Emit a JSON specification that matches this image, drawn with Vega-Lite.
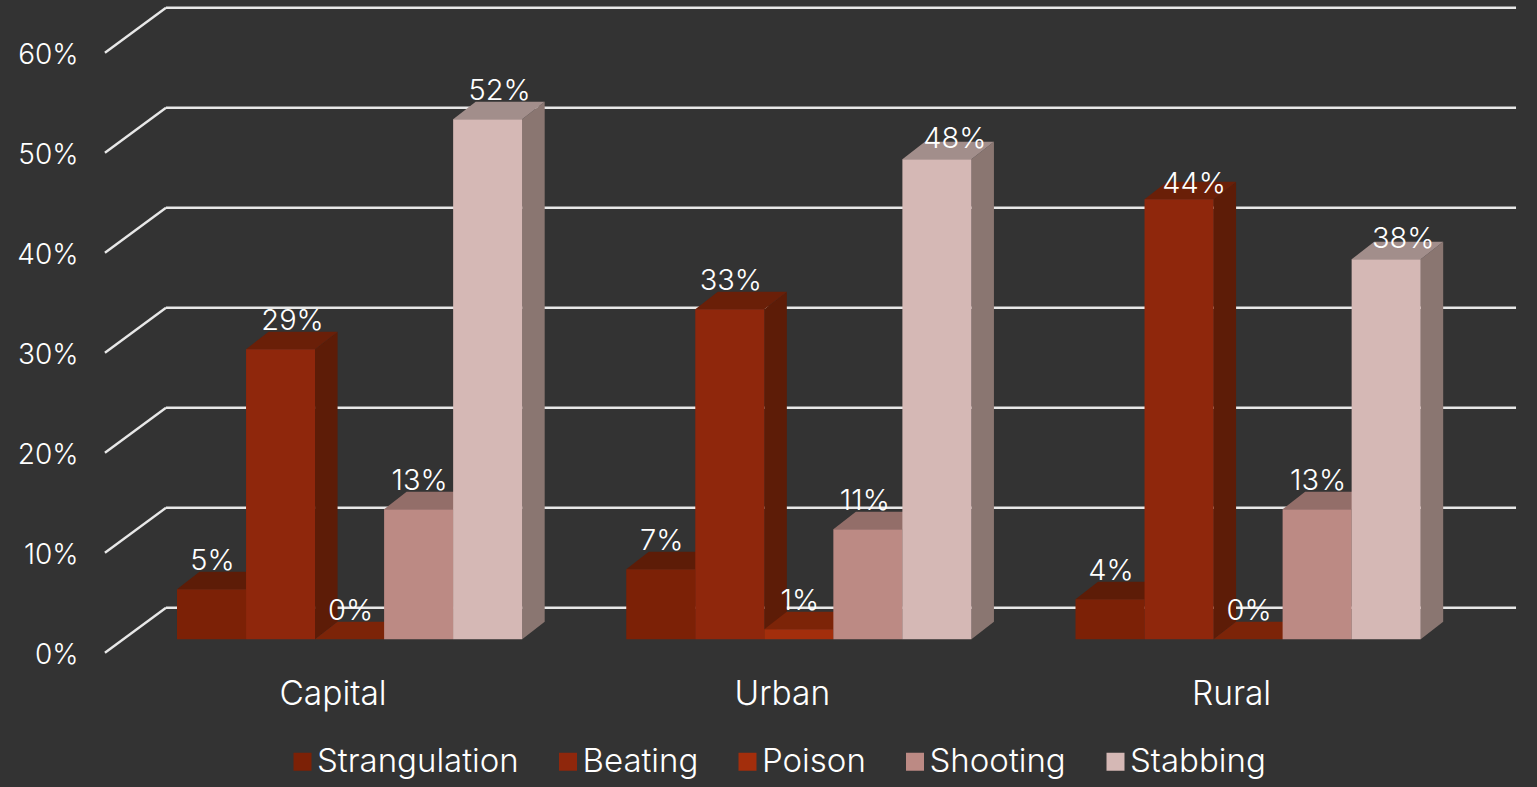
{
"$schema":"https://vega.github.io/schema/vega-lite/v6.json",
"width":1537,"height":787,"padding":0,"autosize":{"type":"none"},
"background":"#333333",
"config":{"view":{"stroke":null},"font":"Inter","text":{"font":"Inter","fontWeight":300}},
"datasets":{
"rows":[
{"category":"Capital","series":"Strangulation","value":0.05},
{"category":"Capital","series":"Beating","value":0.29},
{"category":"Capital","series":"Poison","value":0.0},
{"category":"Capital","series":"Shooting","value":0.13},
{"category":"Capital","series":"Stabbing","value":0.52},
{"category":"Urban","series":"Strangulation","value":0.07},
{"category":"Urban","series":"Beating","value":0.33},
{"category":"Urban","series":"Poison","value":0.01},
{"category":"Urban","series":"Shooting","value":0.11},
{"category":"Urban","series":"Stabbing","value":0.48},
{"category":"Rural","series":"Strangulation","value":0.04},
{"category":"Rural","series":"Beating","value":0.44},
{"category":"Rural","series":"Poison","value":0.0},
{"category":"Rural","series":"Shooting","value":0.13},
{"category":"Rural","series":"Stabbing","value":0.38}
],
"ticks":[{"t":0},{"t":0.1},{"t":0.2},{"t":0.3},{"t":0.4},{"t":0.5},{"t":0.6}],
"categories":[{"category":"Capital","g":0},{"category":"Urban","g":1},{"category":"Rural","g":2}]
},
"layer":[
{"data":{"name":"ticks"},
 "transform":[{"calculate":"datum.t+0.0315","as":"yb"},{"calculate":"datum.t-0.0135","as":"yf"}],
 "mark":{"type":"rule","color":"#E8E8E8","strokeWidth":2.4},
 "encoding":{
  "x":{"datum":-0.1604,"type":"quantitative","scale":{"domain":[-0.39399,3.02727],"nice":false,"zero":false,"range":[0,1537]},"axis":null},
  "x2":{"datum":-0.0245},
  "y":{"field":"yf","type":"quantitative","scale":{"domain":[-0.1477,0.6393],"nice":false,"zero":false,"range":[787,0]},
   "axis":{"values":[0,0.1,0.2,0.3,0.4,0.5,0.6],"format":".0%","title":null,"domain":false,"ticks":false,"grid":false,"offset":-78,"labelPadding":0,"labelOffset":16,"labelColor":"#FFFFFF","labelFontSize":28,"labelFont":"Inter","labelFontWeight":300}},
  "y2":{"field":"yb"}}},
{"data":{"name":"ticks"},
 "transform":[{"calculate":"datum.t+0.0315","as":"yb"}],
 "mark":{"type":"rule","color":"#E8E8E8","strokeWidth":2.4},
 "encoding":{
  "x":{"datum":-0.0245,"type":"quantitative"},
  "x2":{"datum":2.9806},
  "y":{"field":"yb","type":"quantitative"}}},
{"data":{"name":"rows"},
 "transform":[
  {"calculate":"indexof(['Capital','Urban','Rural'],datum.category)+0.15367*indexof(['Strangulation','Beating','Poison','Shooting','Stabbing'],datum.series)","as":"xb"},
  {"calculate":"[0,1]","as":"c"},{"flatten":["c"]},
  {"calculate":"datum.xb+0.15367+0.0501*datum.c","as":"xs"},
  {"calculate":"datum.c*0.0175","as":"lo"},
  {"calculate":"datum.value+datum.c*0.0175","as":"hi"}],
 "mark":{"type":"area","interpolate":"linear","orient":"vertical"},
 "encoding":{
  "x":{"field":"xs","type":"quantitative"},
  "y":{"field":"lo","type":"quantitative","stack":null},
  "y2":{"field":"hi"},
  "detail":{"field":"category"},
  "fill":{"field":"series","type":"nominal","legend":null,"scale":{"domain":["Strangulation","Beating","Poison","Shooting","Stabbing"],"range":["#5D1C07","#5D1C07","#6A1F08","#8A6A66","#8A7671"]}}}},
{"data":{"name":"rows"},
 "transform":[
  {"calculate":"indexof(['Capital','Urban','Rural'],datum.category)+0.15367*indexof(['Strangulation','Beating','Poison','Shooting','Stabbing'],datum.series)","as":"xb"},
  {"calculate":"[0,1,2,3]","as":"c"},{"flatten":["c"]},
  {"calculate":"datum.xb+[0,0.0501,0.15367,0.20377][datum.c]","as":"xt"},
  {"calculate":"datum.value+[0,0,0,0.0175][datum.c]","as":"lo"},
  {"calculate":"datum.value+[0,0.0175,0.0175,0.0175][datum.c]","as":"hi"}],
 "mark":{"type":"area","interpolate":"linear","orient":"vertical"},
 "encoding":{
  "x":{"field":"xt","type":"quantitative"},
  "y":{"field":"lo","type":"quantitative","stack":null},
  "y2":{"field":"hi"},
  "detail":{"field":"category"},
  "fill":{"field":"series","type":"nominal","legend":null,"scale":{"domain":["Strangulation","Beating","Poison","Shooting","Stabbing"],"range":["#5D1C07","#6A1F08","#7C2408","#936E69","#A28E8B"]}}}},
{"data":{"name":"rows"},
 "transform":[
  {"calculate":"indexof(['Capital','Urban','Rural'],datum.category)+0.15367*indexof(['Strangulation','Beating','Poison','Shooting','Stabbing'],datum.series)","as":"xb"},
  {"calculate":"datum.xb+0.15367","as":"xe"}],
 "mark":{"type":"rect"},
 "encoding":{
  "x":{"field":"xb","type":"quantitative"},
  "x2":{"field":"xe"},
  "y":{"field":"value","type":"quantitative"},
  "y2":{"datum":0},
  "color":{"field":"series","type":"nominal","title":null,
   "scale":{"domain":["Strangulation","Beating","Poison","Shooting","Stabbing"],"range":["#7C2106","#8F270C","#A32E0C","#BC8A84","#D5B8B5"]},
   "legend":{"orient":"none","legendX":286,"legendY":745,"direction":"horizontal","columns":5,"symbolType":"square","symbolSize":324,"symbolStrokeWidth":0,"labelFontSize":33,"labelFont":"Inter","labelFontWeight":300,"labelColor":"#FFFFFF","columnPadding":32.5,"labelOffset":-2,"padding":0,"labelLimit":400}}}},
{"data":{"name":"rows"},
 "transform":[
  {"calculate":"datum.category+'/'+datum.series","as":"k"},
  {"calculate":"({'Capital/Beating':12,'Capital/Stabbing':12,'Urban/Stabbing':18,'Rural/Beating':15,'Rural/Stabbing':17,'Urban/Shooting':-3})[datum.k]||1","as":"dxp"},
  {"calculate":"({'Urban/Stabbing':0.02,'Rural/Stabbing':0.02,'Rural/Beating':0.015})[datum.k]||0.028","as":"dyv"},
  {"calculate":"indexof(['Capital','Urban','Rural'],datum.category)+0.15367*indexof(['Strangulation','Beating','Poison','Shooting','Stabbing'],datum.series)+0.0768+datum.dxp/449","as":"xc"},
  {"calculate":"datum.value+datum.dyv","as":"yc"}],
 "mark":{"type":"text","color":"#FFFFFF","fontSize":29,"baseline":"middle","align":"center"},
 "encoding":{
  "x":{"field":"xc","type":"quantitative"},
  "y":{"field":"yc","type":"quantitative"},
  "text":{"field":"value","type":"quantitative","format":".0%"}}},
{"data":{"name":"categories"},
 "transform":[{"calculate":"datum.g+0.3474","as":"xc"}],
 "mark":{"type":"text","color":"#FFFFFF","fontSize":33.5,"baseline":"middle","align":"center"},
 "encoding":{
  "x":{"field":"xc","type":"quantitative"},
  "y":{"datum":-0.056,"type":"quantitative"},
  "text":{"field":"category"}}}
],
"resolve":{"scale":{"fill":"independent"}}
}
